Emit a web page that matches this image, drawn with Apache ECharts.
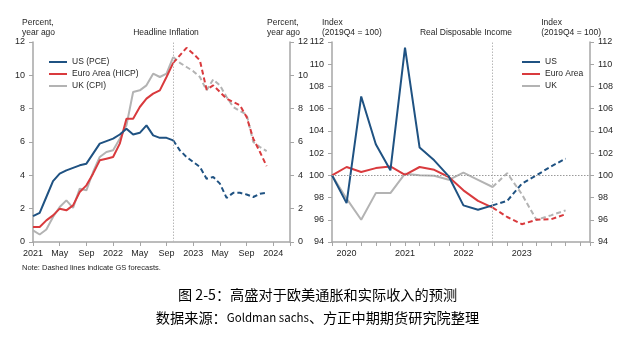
<!DOCTYPE html>
<html><head><meta charset="utf-8">
<script src="https://cdn.jsdelivr.net/npm/echarts@6/dist/echarts.min.js"></script>
<style>html,body{margin:0;padding:0;background:#fff}#c{width:635px;height:338px}</style>
</head><body><div id="c"></div>
<script>
// ---------- Data: Headline Inflation (monthly, index 0 = Jan 2021) ----------
const monthTickLabels = ['2021','May','Sep','2022','May','Sep','2023','May','Sep','2024']; // every 4 months
const inflationForecastStart = 21; // Oct 2022
const usPCE       = [1.55,1.75,2.7,3.65,4.1,4.3,4.45,4.6,4.7,5.3,5.9,6.05,6.2,6.45,6.8,6.45,6.55,7.0,6.4,6.25,6.25,6.1];
const usPCEFcst   = [6.1,5.5,5.1,4.8,4.5,3.8,3.9,3.5,2.65,2.95,2.95,2.85,2.7,2.9,2.95];
const euroHICP    = [0.9,0.9,1.3,1.6,2.0,1.9,2.2,3.0,3.4,4.1,4.9,5.0,5.1,5.9,7.4,7.4,8.1,8.6,8.9,9.1,9.9,10.75];
const euroHICPFcst= [10.75,11.2,11.65,11.3,10.9,9.15,9.4,9.0,8.6,8.4,8.2,7.5,6.2,5.4,4.55];
const ukCPI       = [0.7,0.45,0.75,1.5,2.1,2.5,2.05,3.2,3.1,4.2,5.1,5.4,5.5,6.2,7.0,9.0,9.1,9.4,10.1,9.9,10.1,11.1];
const ukCPIFcst   = [11.1,10.75,10.5,10.25,9.9,9.1,9.75,9.4,8.7,8.1,7.85,7.65,6.0,5.7,5.45];

// ---------- Data: Real Disposable Income (quarterly, index 0 = 2019Q4) ----------
const quarterTickLabels = ['2020','2021','2022','2023']; // at Q1 of each year
const incomeForecastStart = 11; // 2022Q3
const usRDI       = [100,97.5,107.1,102.8,100.45,111.5,102.5,101.35,99.9,97.3,96.9,97.3];
const usRDIFcst   = [97.3,97.7,99.25,100.0,100.8,101.5];
const euroRDI     = [100,100.75,100.3,100.65,100.8,100.05,100.75,100.5,99.85,98.65,97.7,97.1];
const euroRDIFcst = [97.1,96.25,95.6,96.0,96.05,96.5];
const ukRDI       = [100,97.9,96.0,98.4,98.4,100.15,100.0,99.97,99.6,100.25,99.6,98.95];
const ukRDIFcst   = [98.95,100.2,98.3,96.0,96.4,96.85];

// ---------- Chart ----------
const BLUE = '#1f5282', RED = '#d93a3d', GREY = '#b3b3b3';
const AXIS = '#a6a6a6', TXT = '#262626';
const FONT = 'Liberation Sans, Arial, sans-serif';
const pairs = (arr, start) => arr.map((v, i) => [start + i, v]);

function line(name, data, color, dashed, xi, yi, extra) {
  return Object.assign({
    name, type: 'line', data, xAxisIndex: xi, yAxisIndex: yi,
    symbol: 'none', silent: true, animation: false,
    lineStyle: { color, width: 2, type: dashed ? [5, 3] : 'solid' },
    itemStyle: { color }
  }, extra || {});
}
const vline = (x) => ({ symbol: 'none', silent: true, label: { show: false },
  lineStyle: { color: '#b8b8b8', type: [1.5, 1.5], width: 1 }, data: [{ xAxis: x }] });

const yBase = (gi, pos, min, max, interval) => ({
  type: 'value', gridIndex: gi, position: pos, min, max, interval,
  axisLine: { show: true, lineStyle: { color: AXIS, width: 1.5 } },
  axisTick: { show: true, length: 4, lineStyle: { color: AXIS } },
  axisLabel: { color: TXT, fontSize: 9, fontFamily: FONT, margin: 8 },
  splitLine: { show: false }
});
const legendBase = {
  orient: 'vertical', top: 52, icon: 'rect', itemWidth: 18, itemHeight: 2, itemGap: 2,
  selectedMode: false, textStyle: { fontSize: 8.5, color: TXT, fontFamily: FONT, lineHeight: 10 }
};

const option = {
  animation: false,
  grid: [
    { left: 33, right: 345, top: 42, bottom: 96 },
    { left: 332, right: 45, top: 42, bottom: 96 }
  ],
  xAxis: [
    { type: 'value', gridIndex: 0, min: 0, max: 38.5, interval: 4,
      axisLine: { show: true, onZero: false, lineStyle: { color: AXIS, width: 1.5 } },
      axisTick: { show: true, length: 4, lineStyle: { color: AXIS } },
      axisLabel: { color: TXT, fontSize: 9, fontFamily: FONT, margin: 7,
        formatter: v => (v % 4 === 0 && monthTickLabels[v / 4] !== undefined) ? monthTickLabels[v / 4] : '' },
      splitLine: { show: false } },
    { type: 'value', gridIndex: 1, min: 0, max: 17.67, interval: 1,
      axisLine: { show: true, onZero: false, lineStyle: { color: AXIS, width: 1.5 } },
      axisTick: { show: true, length: 4, lineStyle: { color: AXIS } },
      axisLabel: { color: TXT, fontSize: 9, fontFamily: FONT, margin: 7,
        formatter: v => ((v - 1) % 4 === 0 && quarterTickLabels[(v - 1) / 4] !== undefined) ? quarterTickLabels[(v - 1) / 4] : '' },
      splitLine: { show: false } }
  ],
  yAxis: [
    yBase(0, 'left', 0, 12, 2),
    yBase(0, 'right', 0, 12, 2),
    yBase(1, 'left', 94, 112, 2),
    yBase(1, 'right', 94, 112, 2)
  ],
  title: [
    { text: 'Headline Inflation', left: 161, top: 23, textAlign: 'center',
      textStyle: { fontSize: 8.5, fontWeight: 'normal', color: TXT, fontFamily: FONT } },
    { text: 'Real Disposable Income', left: 461, top: 23, textAlign: 'center',
      textStyle: { fontSize: 8.5, fontWeight: 'normal', color: TXT, fontFamily: FONT } }
  ],
  legend: [
    Object.assign({}, legendBase, { data: ['US (PCE)', 'Euro Area (HICP)', 'UK (CPI)'], left: 44 }),
    Object.assign({}, legendBase, { data: ['US', 'Euro Area', 'UK'], left: 517 })
  ],
  graphic: [
    { type: 'text', left: 22, top: 18, style: { text: 'Percent,\nyear ago', font: '8.5px ' + FONT, fill: TXT, lineHeight: 9.5 } },
    { type: 'text', left: 267, top: 18, style: { text: 'Percent,\nyear ago', font: '8.5px ' + FONT, fill: TXT, lineHeight: 9.5, align: 'right' } },
    { type: 'text', left: 322, top: 18, style: { text: 'Index\n(2019Q4 = 100)', font: '8.5px ' + FONT, fill: TXT, lineHeight: 9.5 } },
    { type: 'text', right: 34, top: 18, style: { text: 'Index\n(2019Q4 = 100)', font: '8.5px ' + FONT, fill: TXT, lineHeight: 9.5, align: 'right' } },
    { type: 'text', left: 22, top: 264, style: { text: 'Note: Dashed lines indicate GS forecasts.', font: '7.5px ' + FONT, fill: TXT } },
    { type: 'text', left: 'center', top: 288, style: { text: '图 2-5：高盛对于欧美通胀和实际收入的预测', font: '14.2px "Noto Sans CJK SC"', fill: '#000' } },
    { type: 'text', left: 'center', top: 311, style: {
        text: '{a|数据来源：}{b|Goldman sachs}{a|、方正中期期货研究院整理}',
        rich: { a: { fontSize: 14.2, fontFamily: 'Noto Sans CJK SC', fill: '#000', color: '#000' },
                b: { fontSize: 11.5, fontFamily: 'Noto Sans CJK SC', fill: '#000', color: '#000' } } } }
  ],
  series: [
    line('UK (CPI)', pairs(ukCPI, 0), GREY, false, 0, 0, { markLine: vline(inflationForecastStart) }),
    line('UK (CPI) forecast', pairs(ukCPIFcst, inflationForecastStart), GREY, true, 0, 0),
    line('Euro Area (HICP)', pairs(euroHICP, 0), RED, false, 0, 0),
    line('Euro Area (HICP) forecast', pairs(euroHICPFcst, inflationForecastStart), RED, true, 0, 0),
    line('US (PCE)', pairs(usPCE, 0), BLUE, false, 0, 0),
    line('US (PCE) forecast', pairs(usPCEFcst, inflationForecastStart), BLUE, true, 0, 0),

    line('UK', pairs(ukRDI, 0), GREY, false, 1, 2, { markLine: {
      symbol: 'none', silent: true, label: { show: false },
      lineStyle: { color: '#9a9a9a', type: [1.5, 1.5], width: 1 },
      data: [{ yAxis: 100 }, { xAxis: incomeForecastStart, lineStyle: { color: '#b8b8b8' } }] } }),
    line('UK forecast', pairs(ukRDIFcst, incomeForecastStart), GREY, true, 1, 2),
    line('Euro Area', pairs(euroRDI, 0), RED, false, 1, 2),
    line('Euro Area forecast', pairs(euroRDIFcst, incomeForecastStart), RED, true, 1, 2),
    line('US', pairs(usRDI, 0), BLUE, false, 1, 2),
    line('US forecast', pairs(usRDIFcst, incomeForecastStart), BLUE, true, 1, 2)
  ]
};
const chart = echarts.init(document.getElementById('c'), null, { renderer: 'canvas' });
chart.setOption(option);
</script></body></html>
